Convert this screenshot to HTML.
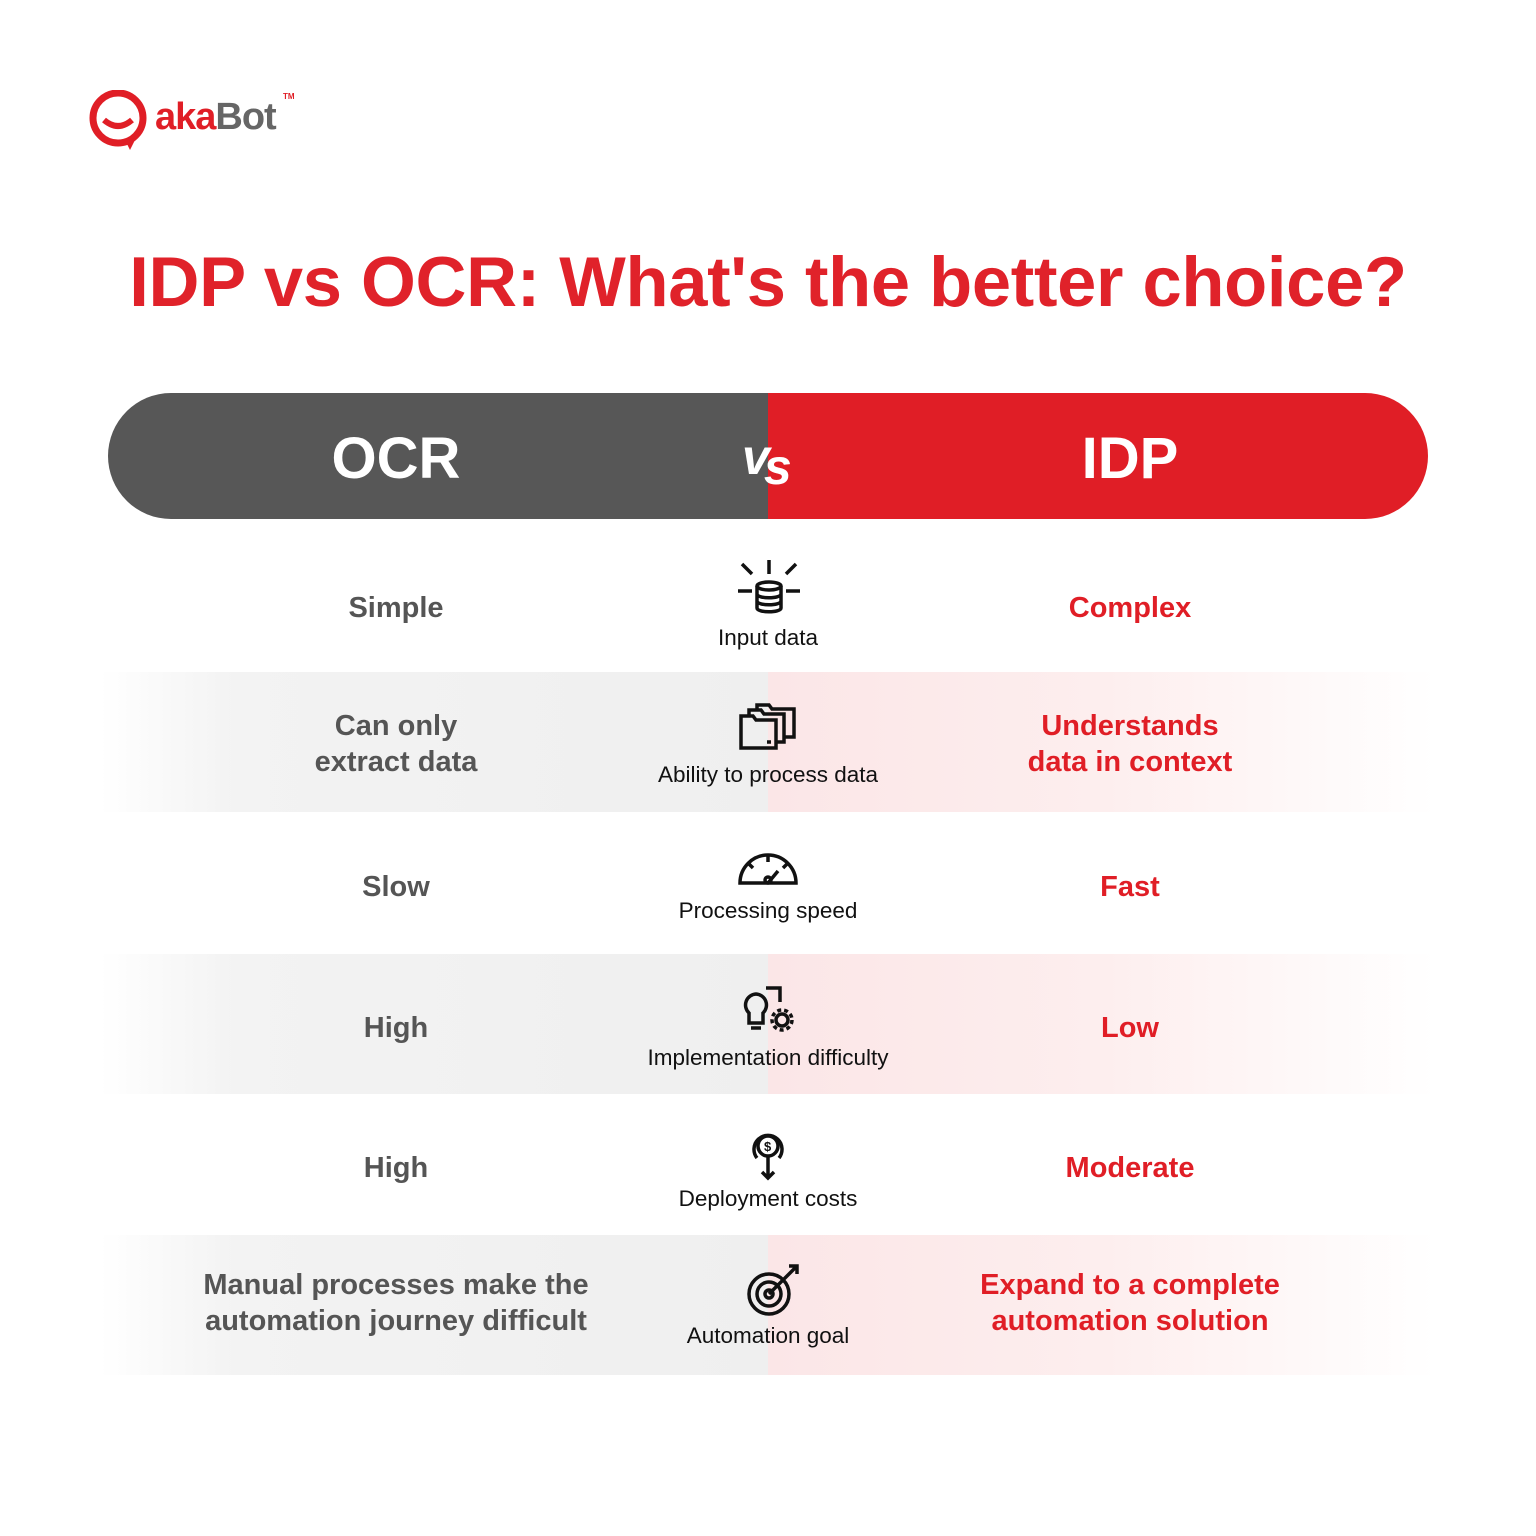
<!DOCTYPE html>
<html><head><meta charset="utf-8"><style>
body{margin:0;width:1536px;height:1536px;background:#fff;position:relative;font-family:"Liberation Sans",sans-serif;overflow:hidden}
.a{position:absolute}
.band{position:absolute;left:100px;width:1336px;height:140px;background:linear-gradient(90deg,rgba(239,239,239,0) 0%,#f3f3f3 10%,#efefef 50%,#fbe6e7 50%,#fdeeee 75%,rgba(253,240,240,0) 100%)}
.l{position:absolute;left:196px;width:400px;text-align:center;color:#555;font-size:29px;font-weight:bold;line-height:36px}
.r{position:absolute;left:930px;width:400px;text-align:center;color:#e01e26;font-size:29px;font-weight:bold;line-height:36px}
.c{position:absolute;left:568px;width:400px;text-align:center;color:#111;font-size:22.5px}
svg.i{position:absolute;fill:none;stroke:#111;stroke-width:3.5}
</style></head><body>
<svg class="a" style="left:86px;top:90px" width="70" height="60" viewBox="0 0 70 60"><circle cx="32" cy="28" r="25" fill="none" stroke="#e01e26" stroke-width="7"/><path d="M18 30 Q32 42 46 30" fill="none" stroke="#e01e26" stroke-width="6"/><path d="M40 52 L44 60 L50 48Z" fill="#e01e26"/></svg>
<div class="a" style="left:155px;top:96px;font-size:38px;font-weight:bold;letter-spacing:-1px"><span style="color:#e01e26">aka</span><span style="color:#666">Bot</span></div>
<div class="a" style="left:283px;top:92px;font-size:8px;color:#e01e26;font-weight:bold">TM</div>
<div class="a" style="left:0;width:1536px;top:241px;text-align:center;color:#e0222a;font-size:70.5px;font-weight:bold;letter-spacing:-0.3px">IDP vs OCR: What's the better choice?</div>
<div class="a" style="left:108px;top:393px;width:1320px;height:126px;border-radius:63px;overflow:hidden;background:linear-gradient(90deg,#575757 50%,#e01e26 50%)"></div>
<div class="a" style="left:196px;width:400px;top:426px;text-align:center;color:#fff;font-size:58px;font-weight:bold;line-height:66px">OCR</div>
<div class="a" style="left:930px;width:400px;top:426px;text-align:center;color:#fff;font-size:58px;font-weight:bold;line-height:66px">IDP</div>
<div class="a" style="left:742px;top:428px;color:#fff;font-size:50px;font-weight:bold;font-style:italic;letter-spacing:-6px">v<span style="position:relative;top:10px">s</span></div>
<div class="band" style="top:672px"></div>
<div class="band" style="top:954px"></div>
<div class="band" style="top:1235px"></div>
<div class="l" style="top:590px">Simple</div><div class="r" style="top:590px">Complex</div><div class="c" style="top:625px">Input data</div>
<div class="l" style="top:708px">Can only<br>extract data</div><div class="r" style="top:708px">Understands<br>data in context</div><div class="c" style="top:762px">Ability to process data</div>
<div class="l" style="top:869px">Slow</div><div class="r" style="top:869px">Fast</div><div class="c" style="top:898px">Processing speed</div>
<div class="l" style="top:1010px">High</div><div class="r" style="top:1010px">Low</div><div class="c" style="top:1045px">Implementation difficulty</div>
<div class="l" style="top:1150px">High</div><div class="r" style="top:1150px">Moderate</div><div class="c" style="top:1186px">Deployment costs</div>
<div class="l" style="top:1267px">Manual processes make the<br>automation journey difficult</div><div class="r" style="top:1267px">Expand to a complete<br>automation solution</div><div class="c" style="top:1323px">Automation goal</div>
<svg class="i" style="left:736px;top:558px" width="66" height="58" viewBox="0 0 66 58"><ellipse cx="33" cy="28" rx="12" ry="4"/><path d="M21 28v22c0 5 24 5 24 0V28M21 36c0 5 24 5 24 0M21 43c0 5 24 5 24 0"/><path d="M33 2v14M6 6l10 10M60 6l-10 10M2 33h14M64 33H50"/></svg>
<svg class="i" style="left:739px;top:702px" width="58" height="48" viewBox="0 0 58 48"><path d="M2 14h12l3 4h20v28H2z"/><path d="M10 14V8h12l3 4h20v28h-8M18 8V3h12l3 4h22v28h-10"/><path d="M28 40h4"/></svg>
<svg class="i" style="left:737px;top:850px" width="62" height="36" viewBox="0 0 62 36"><path d="M3 33a28 28 0 0 1 56 0z"/><path d="M31 6v6M12 14l4 4M50 14l-4 4M31 33l10-12"/><circle cx="31" cy="30" r="3"/></svg>
<svg class="i" style="left:742px;top:984px" width="52" height="50" viewBox="0 0 52 50"><path d="M14 10a11 11 0 0 0-7 19v10h14V29a11 11 0 0 0-7-19zM9 44h10M24 4h14v14"/><circle cx="40" cy="36" r="6"/><circle cx="40" cy="36" r="10" stroke-dasharray="4 3"/></svg>
<svg class="i" style="left:741px;top:1128px" width="56" height="54" viewBox="0 0 56 54"><circle cx="27" cy="18" r="10"/><path d="M16 30a14 14 0 1 1 22 0M27 28v22M21 44l6 6 6-6"/><text x="23" y="23" font-size="13" fill="#111" stroke="none" font-family="Liberation Sans" font-weight="bold">$</text></svg>
<svg class="i" style="left:745px;top:1262px" width="58" height="56" viewBox="0 0 58 56"><circle cx="24" cy="32" r="20"/><circle cx="24" cy="32" r="12"/><circle cx="24" cy="32" r="4"/><path d="M24 32L52 4M44 4h8v8"/></svg>
</body></html>
